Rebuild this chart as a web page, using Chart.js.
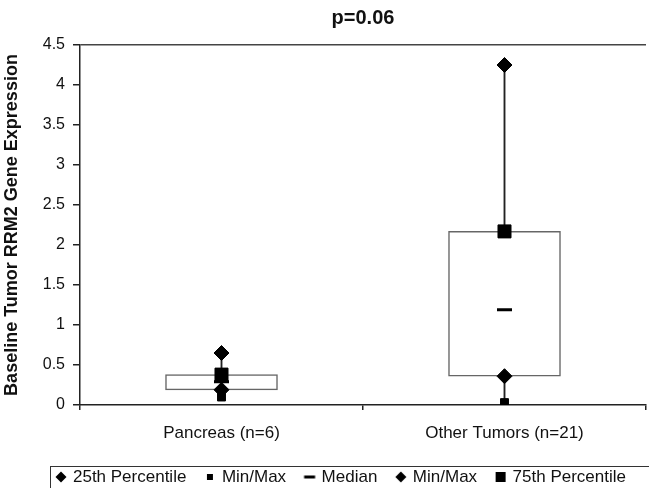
<!DOCTYPE html>
<html>
<head>
<meta charset="utf-8">
<script src="https://cdn.jsdelivr.net/npm/chart.js@4/dist/chart.umd.min.js"></script>
<style>
  html, body { margin: 0; padding: 0; background: #fff; }
  canvas { display: block; }
</style>
</head>
<body>
<canvas id="rrm2Chart" width="649" height="488"></canvas>
<script>
const categories = ["Pancreas (n=6)", "Other Tumors (n=21)"];
const percentile25 = [0.19, 0.36];
const percentile75 = [0.38, 2.17];
const medians = [0.29, 1.19];
const minima = [0.1, 0.03];
const maxima = [0.65, 4.25];
const yTickMin = 0;
const yTickMax = 4.5;
const yTickStep = 0.5;

const fontFamily = "'Liberation Sans', Arial, Helvetica, sans-serif";
const ink = "#111";

function markerCanvas(kind) {
  const canvas = document.createElement("canvas");
  canvas.width = 14;
  canvas.height = 14;
  const g = canvas.getContext("2d");
  g.fillStyle = "#000";
  if (kind === "diamond") {
    g.beginPath();
    g.moveTo(7, 1.5);
    g.lineTo(12.5, 7);
    g.lineTo(7, 12.5);
    g.lineTo(1.5, 7);
    g.closePath();
    g.fill();
  } else if (kind === "smallSquare") {
    g.fillRect(4, 4, 6, 6);
  } else if (kind === "dash") {
    g.fillRect(1.5, 5.5, 11, 3);
  } else if (kind === "bigSquare") {
    g.fillRect(2, 2, 10, 10);
  }
  return canvas;
}

function markerSet(label, values, style, radius, order, legendMark, extra = {}) {
  return {
    type: "line",
    label,
    data: values,
    showLine: false,
    pointStyle: style,
    pointRadius: radius,
    pointHoverRadius: radius,
    pointBackgroundColor: "#000",
    pointBorderColor: "#000",
    pointBorderWidth: 1,
    order,
    legendMark: markerCanvas(legendMark),
    ...extra
  };
}

const boxRanges = categories.map((_, i) => [percentile25[i], percentile75[i]]);
const whiskerRanges = categories.map((_, i) => [minima[i], maxima[i]]);

const legendFrame = {
  id: "legendFrame",
  afterDraw(chart) {
    const boxes = chart.legend?.legendHitBoxes;
    if (!boxes || !boxes.length) return;
    const first = boxes[0];
    const ctx = chart.ctx;
    const top = Math.round(first.top + first.height / 2 - 11) + 0.5;
    const left = Math.round(first.left - 7) + 0.5;
    ctx.save();
    ctx.strokeStyle = "#333";
    ctx.lineWidth = 1;
    ctx.strokeRect(left, top, chart.width + 10, 40);
    ctx.restore();
  }
};

new Chart(document.getElementById("rrm2Chart"), {
  type: "bar",
  data: {
    labels: categories,
    datasets: [
      markerSet("25th Percentile", percentile25, "rectRot", 7.5, 3, "diamond"),
      markerSet("Min/Max", minima, "rect", 5.6, 4, "smallSquare"),
      markerSet("Median", medians, "line", 7.5, 5, "dash", { pointBorderWidth: 3 }),
      markerSet("Min/Max", maxima, "rectRot", 7.5, 2, "diamond"),
      markerSet("75th Percentile", percentile75, "rect", 9.2, 1, "bigSquare"),
      {
        label: "box",
        data: boxRanges,
        backgroundColor: "#fff",
        borderColor: "#666",
        borderWidth: 1.5,
        borderSkipped: false,
        barThickness: 112,
        grouped: false,
        order: 10
      },
      {
        label: "whisker",
        data: whiskerRanges,
        backgroundColor: "#222",
        borderWidth: 0,
        barThickness: 1.2,
        grouped: false,
        order: 11
      }
    ]
  },
  options: {
    responsive: false,
    animation: false,
    events: [],
    layout: { autoPadding: false, padding: { left: 0, right: 3, top: 0, bottom: -7.5 } },
    scales: {
      x: {
        type: "category",
        offset: true,
        afterFit: (scale) => {
          scale.height = 43.5;
          scale.paddingLeft = 0;
          scale.paddingRight = 0;
        },
        border: { color: "#222", width: 1.5 },
        grid: {
          offset: true,
          lineWidth: 1.5,
          color: (ctx) => (ctx.index === categories.length ? "#444" : "transparent"),
          tickColor: "#222",
          tickLength: 5
        },
        ticks: { color: ink, padding: 13, font: { family: fontFamily, size: 17 } }
      },
      y: {
        min: yTickMin,
        max: yTickMax,
        afterFit: (scale) => { scale.width = 80; },
        border: { color: "#222", width: 1.5 },
        grid: {
          lineWidth: 1.5,
          color: (ctx) => (ctx.tick && ctx.tick.value === yTickMax ? "#444" : "transparent"),
          tickColor: "#222",
          tickLength: 7
        },
        ticks: {
          stepSize: yTickStep,
          color: ink,
          padding: 8,
          font: { family: fontFamily, size: 16 },
          callback: (value) => String(value)
        },
        title: {
          display: true,
          text: "Baseline Tumor RRM2 Gene Expression",
          color: ink,
          padding: { top: 1, bottom: 0 },
          font: { family: fontFamily, size: 18, weight: "bold" }
        }
      }
    },
    plugins: {
      tooltip: { enabled: false },
      title: {
        display: true,
        text: "p=0.06",
        fullSize: false,
        color: ink,
        padding: { top: 6, bottom: 15 },
        font: { family: fontFamily, size: 20, weight: "bold" }
      },
      legend: {
        position: "bottom",
        align: "end",
        labels: {
          usePointStyle: true,
          pointStyleWidth: 7,
          padding: 20,
          color: ink,
          font: { family: fontFamily, size: 17 },
          generateLabels: (chart) =>
            chart.data.datasets
              .map((ds, i) => ({
                text: ds.label,
                pointStyle: ds.legendMark,
                datasetIndex: i,
                fillStyle: "#000",
                strokeStyle: "#000",
                lineWidth: 0,
                fontColor: ink,
                hidden: false
              }))
              .filter((item) => item.pointStyle)
        }
      }
    }
  },
  plugins: [legendFrame]
});
</script>
</body>
</html>
